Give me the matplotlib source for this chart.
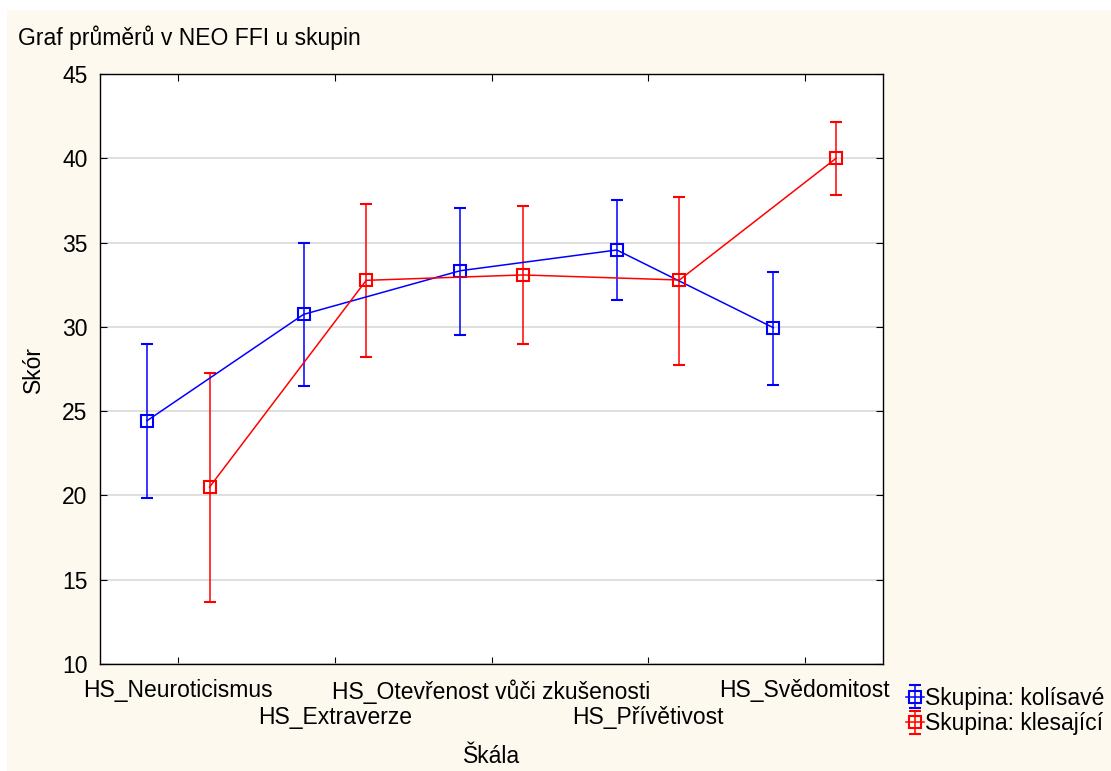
import matplotlib
matplotlib.use("Agg")
import matplotlib.pyplot as plt
from matplotlib.patches import Rectangle
import numpy as np

plt.rcParams["font.family"] = ["Liberation Sans", "DejaVu Sans"]

scales = ["HS_Neuroticismus", "HS_Extraverze", "HS_Otevřenost vůči zkušenosti",
          "HS_Přívětivost", "HS_Svědomitost"]

kolisave_mean = [24.43, 30.74, 33.33, 34.56, 29.95]
kolisave_low = [19.85, 26.47, 29.52, 31.57, 26.57]
kolisave_high = [28.98, 34.96, 37.03, 37.53, 33.27]

klesajici_mean = [20.50, 32.76, 33.08, 32.78, 40.00]
klesajici_low = [13.68, 28.23, 28.96, 27.76, 37.82]
klesajici_high = [27.28, 37.29, 37.19, 37.72, 42.13]

bg = "#fdf9ef"
fs = 16.5
fig = plt.figure(figsize=(11.11, 7.71), dpi=100, facecolor=bg)
# thin white margin on the top and left edge
fig.patches.append(Rectangle((0, 0.987), 1, 0.013, transform=fig.transFigure,
                             facecolor="white", edgecolor="none", zorder=0))
fig.patches.append(Rectangle((0, 0), 0.006, 1, transform=fig.transFigure,
                             facecolor="white", edgecolor="none", zorder=0))

ax = fig.add_axes([0.09, 0.1388, 0.7048, 0.7652])
ax.set_facecolor("white")

x = np.arange(len(scales))
off = 0.2


def draw(pos, mean, low, high, color, label):
    mean = np.array(mean)
    err = [mean - np.array(low), np.array(high) - mean]
    return ax.errorbar(pos, mean, yerr=err, color=color, lw=1.1, elinewidth=1.1,
                       capsize=4.5, capthick=1.1, marker="s", markersize=8,
                       markerfacecolor="none", markeredgecolor=color,
                       markeredgewidth=1.5, label=label, zorder=3)


h1 = draw(x - off, kolisave_mean, kolisave_low, kolisave_high, "#0000ff",
          "Skupina: kolísavé")
h2 = draw(x + off, klesajici_mean, klesajici_low, klesajici_high, "#ff0000",
          "Skupina: klesající")

ax.set_xlim(-0.5, len(scales) - 0.5)
ax.set_ylim(10, 45)
ax.set_yticks(range(10, 46, 5))
ax.set_xticks(x)
ax.set_xticklabels(scales, fontsize=fs)
ax.tick_params(direction="in", length=5, top=True, right=True, color="black")
ax.tick_params(axis="y", labelsize=fs, pad=9)
ax.tick_params(axis="x", pad=11)
# staggered labels: every second one sits on a lower row
for i, t in enumerate(ax.xaxis.get_major_ticks()):
    if i % 2 == 1:
        t.set_pad(30)
ax.grid(axis="y", color="#d9d9d9", lw=1.2)
ax.set_axisbelow(True)
for sp in ax.spines.values():
    sp.set_color("black")
    sp.set_linewidth(1.0)

ax.set_xlabel("Škála", fontsize=fs, labelpad=12)
ax.set_ylabel("Skór", fontsize=fs, labelpad=12)

fig.text(0.016, 0.951, "Graf průměrů v NEO FFI u skupin", fontsize=fs, va="center")

ax.legend(handles=[h1, h2], loc="upper left", bbox_to_anchor=(0.807, 0.121),
          bbox_transform=fig.transFigure, frameon=False, fontsize=fs,
          handlelength=0.8, handletextpad=0.05, borderaxespad=0, labelspacing=0.1)

fig.savefig("out.png", dpi=100, facecolor=bg)
